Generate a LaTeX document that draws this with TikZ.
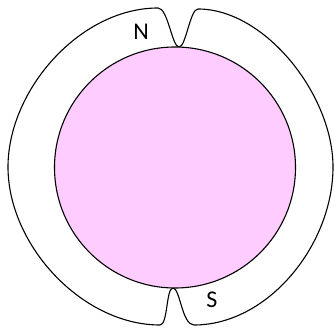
\documentclass[tikz,border=0pt]{standalone}
\usepackage{fontspec}
\setmainfont{Carlito}
\definecolor{rotorpink}{HTML}{FFCCFF}
\begin{document}
\begin{tikzpicture}[x=1pt,y=-1pt,
  outline/.style={draw=black,line width=1.1pt,line join=round},
  polelabel/.style={font=\fontsize{24}{28}\selectfont,inner sep=0pt}]
\useasboundingbox (0,0) rectangle (334,328);
% stator / magnet outline
\draw[outline]
  (158,8) .. controls (80,8) and (8,90) .. (8,167)
  .. controls (8,245) and (82,325) .. (160,325)
  .. controls (168,325) and (166,288) .. (173,288)
  .. controls (180,288) and (182,325) .. (194,325)
  .. controls (268,325) and (333,245) .. (333,167)
  .. controls (333,95) and (265,9) .. (198,9)
  .. controls (190,9) and (186,47) .. (179,47)
  .. controls (172,47) and (168,8) .. cycle;
% rotor
\node[circle,draw=black,line width=1.1pt,fill=rotorpink,minimum size=241pt,inner sep=0pt] (rotor) at (175,167.5) {};
% labels
\node[polelabel] (N) at (141,32) {N};
\node[polelabel] (S) at (212,300) {S};
\end{tikzpicture}
\end{document}
